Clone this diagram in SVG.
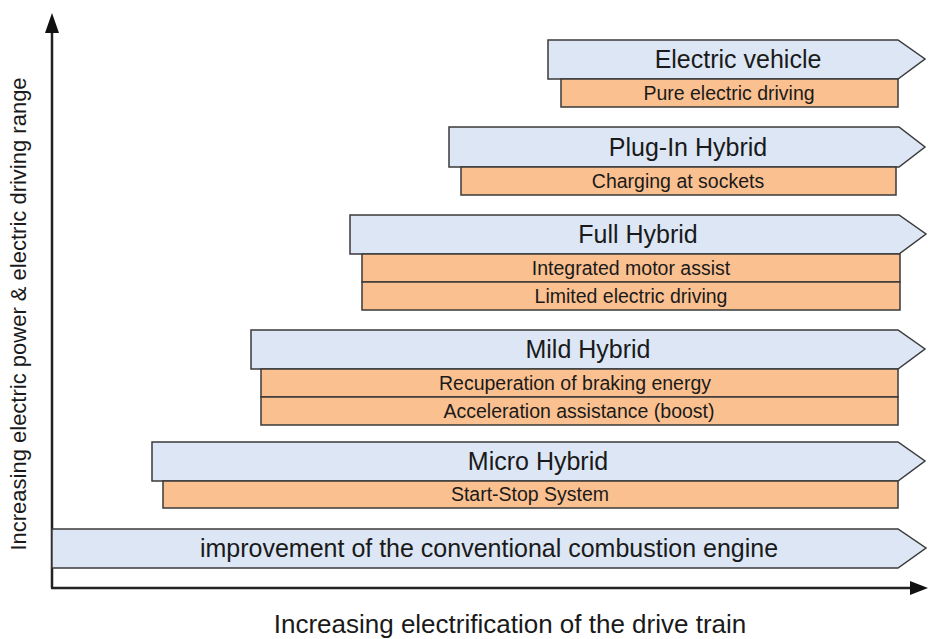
<svg xmlns="http://www.w3.org/2000/svg" width="928" height="639" viewBox="0 0 928 639">
<style>
.arr{fill:#dce6f4;stroke:#3a3a3a;stroke-width:1.5}
.box{fill:#fac090;stroke:#3a3a3a;stroke-width:1.5}
.t1{font-family:"Liberation Sans",Arial,sans-serif;font-size:25px;fill:#1a1a1a;text-anchor:middle}
.t2{font-family:"Liberation Sans",Arial,sans-serif;font-size:19.5px;fill:#1a1a1a;text-anchor:middle}
.ax{font-family:"Liberation Sans",Arial,sans-serif;font-size:26px;fill:#1a1a1a;text-anchor:middle}
.axl{stroke:#222;stroke-width:2.5;fill:none}
</style>
<rect width="928" height="639" fill="#fff"/>
<g id="axes">
<line class="axl" x1="52" y1="588" x2="52" y2="30"/>
<polygon points="52,13 45,33 59,33" fill="#111"/>
<line class="axl" x1="51" y1="588" x2="912" y2="588"/>
<polygon points="928,588 910,581 910,595" fill="#111"/>
<text class="ax" x="510" y="633">Increasing electrification of the drive train</text>
<text class="ax" transform="translate(26,314) rotate(-90)" font-size="22px" style="font-size:22px">Increasing electric power &amp; electric driving range</text>
</g>
<g id="conventional">
<polygon class="arr" points="52,529 898,529 926,548 898,568 52,568"/>
<text class="t1" x="489" y="557">improvement of the conventional combustion engine</text>
</g>
<g id="micro">
<polygon class="arr" points="152,442 898,442 925,461 898,481 152,481"/>
<text class="t1" x="538" y="470">Micro Hybrid</text>
<rect class="box" x="163" y="481" width="735" height="27"/>
<text class="t2" x="530" y="501">Start-Stop System</text>
</g>
<g id="mild">
<polygon class="arr" points="251,330 898,330 925,349 898,369 251,369"/>
<text class="t1" x="588" y="358">Mild Hybrid</text>
<rect class="box" x="261" y="369" width="637" height="28"/>
<text class="t2" x="575" y="390">Recuperation of braking energy</text>
<rect class="box" x="261" y="397" width="637" height="28"/>
<text class="t2" x="579" y="418">Acceleration assistance (boost)</text>
</g>
<g id="full">
<polygon class="arr" points="350,215 899,215 926,234 899,254 350,254"/>
<text class="t1" x="638" y="243">Full Hybrid</text>
<rect class="box" x="362" y="254" width="538" height="28"/>
<text class="t2" x="631" y="275">Integrated motor assist</text>
<rect class="box" x="362" y="282" width="538" height="28"/>
<text class="t2" x="631" y="303">Limited electric driving</text>
</g>
<g id="plugin">
<polygon class="arr" points="449,127 899,127 925,147 899,167 449,167"/>
<text class="t1" x="688" y="156">Plug-In Hybrid</text>
<rect class="box" x="461" y="167" width="435" height="28"/>
<text class="t2" x="678" y="188">Charging at sockets</text>
</g>
<g id="ev">
<polygon class="arr" points="548,40 898,40 925,59 898,79 548,79"/>
<text class="t1" x="738" y="68">Electric vehicle</text>
<rect class="box" x="561" y="79" width="337" height="28"/>
<text class="t2" x="729" y="100">Pure electric driving</text>
</g>
</svg>
